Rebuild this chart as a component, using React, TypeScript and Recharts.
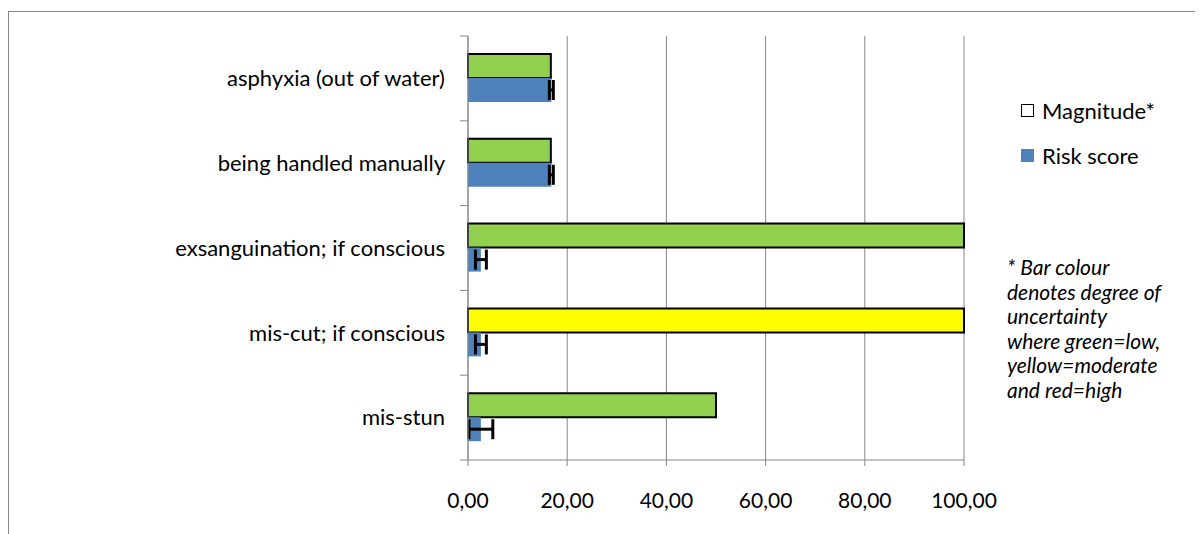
import React from "react";
import { BarChart, Bar, Cell, ErrorBar, XAxis, YAxis, CartesianGrid } from "recharts";

const categories = [
  "asphyxia (out of water)",
  "being handled manually",
  "exsanguination; if conscious",
  "mis-cut; if conscious",
  "mis-stun",
];
const magnitude = [16.7, 16.7, 100, 100, 50];
const riskScore = [16.8, 16.8, 2.6, 2.6, 2.6];
const riskError = [0.4, 0.4, 1.1, 1.1, 2.4];
const uncertainty = ["low", "low", "low", "moderate", "low"];
const xTicks = [0, 20, 40, 60, 80, 100];

const UNCERTAINTY_COLORS: Record<string, string> = { low: "#92D050", moderate: "#FFFF00", high: "#FF0000" };
const BLUE = "#4F81BD";
const GRID = "#868686";
const FONT = "Lato, 'Open Sans', sans-serif";

const data = categories.map((name, i) => ({
  name,
  magnitude: magnitude[i],
  risk: riskScore[i],
  err: riskError[i],
  uncertainty: uncertainty[i],
}));

const BAND = 424 / categories.length;

// y-axis label with Excel-style tick marks between categories
function CategoryTick(props: any) {
  const { y, payload, index } = props;
  const ax = 459;
  return (
    <g>
      <line x1={ax - 8} x2={ax} y1={y - BAND / 2} y2={y - BAND / 2} stroke={GRID} />
      {index === categories.length - 1 && (
        <line x1={ax - 8} x2={ax} y1={y + BAND / 2} y2={y + BAND / 2} stroke={GRID} />
      )}
      <text x={ax - 23} y={y} dy="0.35em" textAnchor="end" fontSize={22} fill="#000" fontFamily={FONT}>
        {payload.value}
      </text>
    </g>
  );
}

export default function App() {
  const legendItem = (swatch: React.CSSProperties, label: string, gap: number) => (
    <div style={{ display: "flex", alignItems: "center", height: 22, marginTop: gap }}>
      <span style={{ width: 13, height: 13, boxSizing: "border-box", marginRight: 8, ...swatch }} />
      <span>{label}</span>
    </div>
  );
  return (
    <div style={{ position: "relative", width: 1192, height: 530, marginTop: 3, border: `1px solid ${GRID}`, borderBottom: "none", background: "#fff" }}>
      <BarChart
        width={1190}
        height={530}
        data={data}
        layout="vertical"
        margin={{ top: 24, right: 235, bottom: 52, left: 0 }}
        barGap={0}
      >
        <CartesianGrid horizontal={false} stroke={GRID} strokeWidth={1} />
        <XAxis
          type="number"
          domain={[0, 100]}
          ticks={xTicks}
          height={30}
          stroke={GRID}
          tickSize={6}
          tickMargin={27}
          tickFormatter={(v: number) => v.toFixed(2).replace(".", ",")}
          tick={{ fontSize: 21, fill: "#000", fontFamily: FONT }}
        />
        <YAxis
          type="category"
          dataKey="name"
          width={459}
          stroke={GRID}
          tickLine={false}
          tick={<CategoryTick />}
          interval={0}
        />
        <Bar dataKey="magnitude" name="Magnitude*" barSize={24} stroke="#000" strokeWidth={2} isAnimationActive={false}>
          {data.map((d, i) => (
            <Cell key={i} fill={UNCERTAINTY_COLORS[d.uncertainty]} />
          ))}
        </Bar>
        <Bar dataKey="risk" name="Risk score" barSize={24} fill={BLUE} isAnimationActive={false}>
          <ErrorBar dataKey="err" direction="x" width={10} stroke="#000" strokeWidth={3} />
        </Bar>
      </BarChart>
      <div style={{ position: "absolute", left: 1012, top: 87, fontFamily: FONT, fontSize: 22, color: "#000" }}>
        {legendItem({ background: "#fff", border: "1px solid #000" }, "Magnitude*", 0)}
        {legendItem({ background: BLUE }, "Risk score", 23)}
      </div>
      <div
        style={{
          position: "absolute",
          left: 998,
          top: 243,
          width: 190,
          fontFamily: FONT,
          fontStyle: "italic",
          fontSize: 21,
          lineHeight: "24.5px",
          color: "#000",
        }}
      >
        * Bar colour
        <br />
        denotes degree of
        <br />
        uncertainty
        <br />
        where green=low,
        <br />
        yellow=moderate
        <br />
        and red=high
      </div>
    </div>
  );
}
